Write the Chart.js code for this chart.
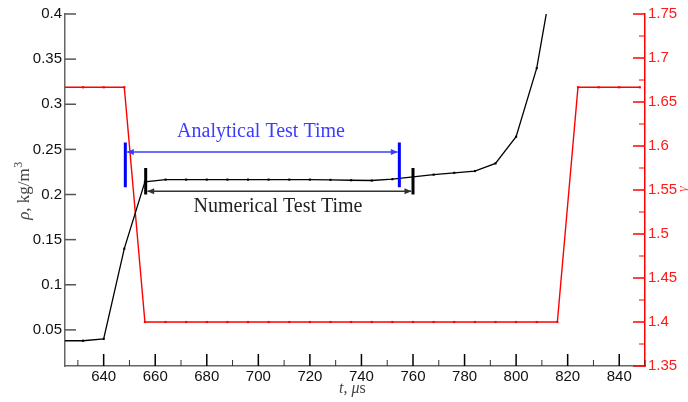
<!DOCTYPE html>
<html>
<head>
<meta charset="utf-8">
<script src="https://cdn.jsdelivr.net/npm/chart.js@4.4.1/dist/chart.umd.min.js"></script>
<style>
  html, body { margin: 0; padding: 0; background: #fff; }
  #wrap { width: 688px; height: 402px; }
</style>
</head>
<body>
<div id="wrap"><canvas id="testTimeChart"></canvas></div>
<script>
// sample times, microseconds
var times = [624, 632, 640, 648, 656, 664, 672, 680, 688, 696, 704, 712, 720, 728,
  736, 744, 752, 760, 768, 776, 784, 792, 800, 808, 816, 824, 832, 840, 848];

// density rho, kg/m^3 (first 25 samples)
var density = [0.038, 0.038, 0.040, 0.140, 0.214, 0.2165, 0.2165, 0.2165, 0.2165,
  0.2165, 0.2165, 0.2165, 0.2165, 0.2162, 0.2158, 0.2155, 0.217, 0.2195, 0.222,
  0.224, 0.226, 0.2345, 0.264, 0.340, 0.470];

// ratio of specific heats gamma
var gamma = [1.6667, 1.6667, 1.6667, 1.6667, 1.4, 1.4, 1.4, 1.4, 1.4, 1.4, 1.4,
  1.4, 1.4, 1.4, 1.4, 1.4, 1.4, 1.4, 1.4, 1.4, 1.4, 1.4, 1.4, 1.4, 1.4,
  1.6667, 1.6667, 1.6667, 1.6667];

// test time annotations: [start, end, arrow level, bar low, bar high]
var analyticalTime = [648.4, 754.7, 0.247, 0.208, 0.2575];
var numericalTime = [656.3, 760, 0.2035, 0.2, 0.2295];

var serif = "'Liberation Serif', 'Times New Roman', serif";
var sans = "'Liberation Sans', Arial, sans-serif";

function pts(xs, ys) {
  return ys.map(function (v, i) { return { x: xs[i], y: v }; });
}
function fmt(v) { return String(+v.toFixed(3)); }

// ticks drawn inward, plus annotations and axis titles
var decorPlugin = {
  id: "decor",
  afterDatasetsDraw: function (chart) {
    var ctx = chart.ctx;
    var x = chart.scales.x, y = chart.scales.y;

    function arrowHead(px, py, dir, color) {
      ctx.fillStyle = color;
      ctx.beginPath();
      ctx.moveTo(px, py);
      ctx.lineTo(px - dir * 7, py - 3);
      ctx.lineTo(px - dir * 7, py + 3);
      ctx.closePath();
      ctx.fill();
    }
    function span(a, lineColor, barColor) {
      var x0 = x.getPixelForValue(a[0]), x1 = x.getPixelForValue(a[1]);
      var yy = y.getPixelForValue(a[2]);
      ctx.save();
      ctx.strokeStyle = lineColor;
      ctx.lineWidth = 1.5;
      ctx.beginPath();
      ctx.moveTo(x0 + 2, yy);
      ctx.lineTo(x1 - 2, yy);
      ctx.stroke();
      arrowHead(x0 + 1.5, yy, -1, lineColor);
      arrowHead(x1 - 1.5, yy, 1, lineColor);
      ctx.strokeStyle = barColor;
      ctx.lineWidth = 3;
      ctx.beginPath();
      ctx.moveTo(x0, y.getPixelForValue(a[3]));
      ctx.lineTo(x0, y.getPixelForValue(a[4]));
      ctx.moveTo(x1, y.getPixelForValue(a[3]));
      ctx.lineTo(x1, y.getPixelForValue(a[4]));
      ctx.stroke();
      ctx.restore();
    }
    span(analyticalTime, "#3c3cff", "#0000ff");
    span(numericalTime, "#333333", "#000000");

    ctx.save();
    ctx.font = "20px " + serif;
    ctx.textAlign = "center";
    ctx.textBaseline = "alphabetic";
    ctx.fillStyle = "#3c3cff";
    ctx.fillText("Analytical Test Time", 261, 137);
    ctx.fillStyle = "#222";
    ctx.fillText("Numerical Test Time", 278, 212);
    ctx.restore();
  },
  afterDraw: function (chart) {
    var ctx = chart.ctx, area = chart.chartArea;
    var x = chart.scales.x, y = chart.scales.y, g = chart.scales.y1;
    ctx.save();
    x.ticks.forEach(function (t) {
      var px = x.getPixelForValue(t.value);
      var major = Math.round(t.value) % 20 === 0;
      ctx.strokeStyle = major ? "#000" : "#333";
      ctx.lineWidth = major ? 1.5 : 1;
      ctx.beginPath();
      ctx.moveTo(px, area.bottom);
      ctx.lineTo(px, area.bottom - (major ? 12 : 6));
      ctx.stroke();
    });
    y.ticks.forEach(function (t) {
      var py = y.getPixelForValue(t.value);
      ctx.strokeStyle = "#555";
      ctx.lineWidth = 1.5;
      ctx.beginPath();
      ctx.moveTo(area.left, py);
      ctx.lineTo(area.left + 11, py);
      ctx.stroke();
    });
    g.ticks.forEach(function (t) {
      var py = g.getPixelForValue(t.value);
      var major = Math.abs(t.value * 20 - Math.round(t.value * 20)) < 1e-6;
      ctx.strokeStyle = "#ff0000";
      ctx.lineWidth = major ? 1.5 : 1;
      ctx.beginPath();
      ctx.moveTo(area.right, py);
      ctx.lineTo(area.right - (major ? 12 : 6), py);
      ctx.stroke();
    });

    // axis titles
    ctx.fillStyle = "#444";
    ctx.textBaseline = "alphabetic";
    ctx.save();
    ctx.translate(29, 191);
    ctx.rotate(-Math.PI / 2);
    ctx.textAlign = "left";
    var parts = [["italic 17px " + serif, "\u03c1"], ["17px " + serif, ", kg/m"]];
    var w = 0;
    ctx.font = parts[0][0]; w += ctx.measureText(parts[0][1]).width;
    ctx.font = parts[1][0]; w += ctx.measureText(parts[1][1]).width;
    ctx.font = "12px " + serif; w += ctx.measureText("3").width;
    var cx = -w / 2;
    ctx.font = parts[0][0]; ctx.fillText(parts[0][1], cx, 0); cx += ctx.measureText(parts[0][1]).width;
    ctx.font = parts[1][0]; ctx.fillText(parts[1][1], cx, 0); cx += ctx.measureText(parts[1][1]).width;
    ctx.font = "12px " + serif; ctx.fillText("3", cx + 0.5, -7);
    ctx.restore();

    ctx.save();
    ctx.textAlign = "left";
    var bx = 339;
    ctx.font = "italic 16px " + serif; ctx.fillText("t", bx, 393); bx += ctx.measureText("t").width;
    ctx.font = "16px " + serif; ctx.fillText(", ", bx, 393); bx += ctx.measureText(", ").width;
    ctx.font = "italic 16px " + serif; ctx.fillText("\u03bc", bx, 393); bx += ctx.measureText("\u03bc").width;
    ctx.font = "16px " + serif; ctx.fillText("s", bx, 393);
    ctx.restore();

    ctx.save();
    ctx.fillStyle = "#ff4040";
    ctx.translate(687, 189);
    ctx.rotate(-Math.PI / 2);
    ctx.font = "italic 14px " + serif;
    ctx.textAlign = "center";
    ctx.fillText("\u03b3", 0, 0);
    ctx.restore();
    ctx.restore();
  }
};

var config = {
  type: "line",
  data: {
    datasets: [
      {
        label: "density",
        data: pts(times, density),
        yAxisID: "y",
        borderColor: "#000",
        backgroundColor: "#000",
        borderWidth: 1.3,
        pointStyle: "rect",
        pointRadius: 1.5,
        pointBorderWidth: 0,
        tension: 0,
      },
      {
        label: "gamma",
        data: pts(times, gamma),
        yAxisID: "y1",
        borderColor: "#ff0000",
        backgroundColor: "#ff0000",
        borderWidth: 1.4,
        pointStyle: "rect",
        pointRadius: 1.5,
        pointBorderWidth: 0,
        tension: 0,
      },
    ],
  },
  options: {
    responsive: true,
    maintainAspectRatio: false,
    animation: false,
    events: [],
    layout: { padding: { top: 14, left: 0, right: 0, bottom: 0 } },
    plugins: { legend: { display: false }, tooltip: { enabled: false } },
    scales: {
      x: {
        type: "linear",
        min: 625,
        max: 850,
        grid: { display: false, drawTicks: false, tickLength: 0 },
        border: { display: true, color: "#666", width: 1.5 },
        ticks: {
          stepSize: 10,
          includeBounds: false,
          autoSkip: false,
          maxRotation: 0,
          padding: 2,
          color: "#111",
          font: { family: sans, size: 15 },
          callback: function (v) { return Math.round(v) % 20 === 0 ? String(v) : ""; },
        },
        afterFit: function (s) { s.height = 36; },
      },
      y: {
        position: "left",
        min: 0.01,
        max: 0.4,
        grid: { display: false, drawTicks: false, tickLength: 0 },
        border: { display: true, color: "#666", width: 1.5 },
        ticks: {
          stepSize: 0.05,
          includeBounds: false,
          padding: 3,
          color: "#111",
          font: { family: sans, size: 15 },
          callback: fmt,
        },
        afterFit: function (s) { s.width = 65; },
      },
      y1: {
        position: "right",
        min: 1.35,
        max: 1.75,
        grid: { display: false, drawTicks: false, tickLength: 0 },
        border: { display: true, color: "#ff0000", width: 1.5 },
        ticks: {
          stepSize: 0.025,
          autoSkip: false,
          padding: 3,
          color: "#ff1a1a",
          font: { family: sans, size: 15 },
          callback: function (v) {
            return Math.abs(v * 20 - Math.round(v * 20)) < 1e-6 ? fmt(v) : "";
          },
        },
        afterFit: function (s) { s.width = 43; },
      },
    },
  },
  plugins: [decorPlugin],
};

var testTimeChart = new Chart(document.getElementById("testTimeChart"), config);
</script>
</body>
</html>
